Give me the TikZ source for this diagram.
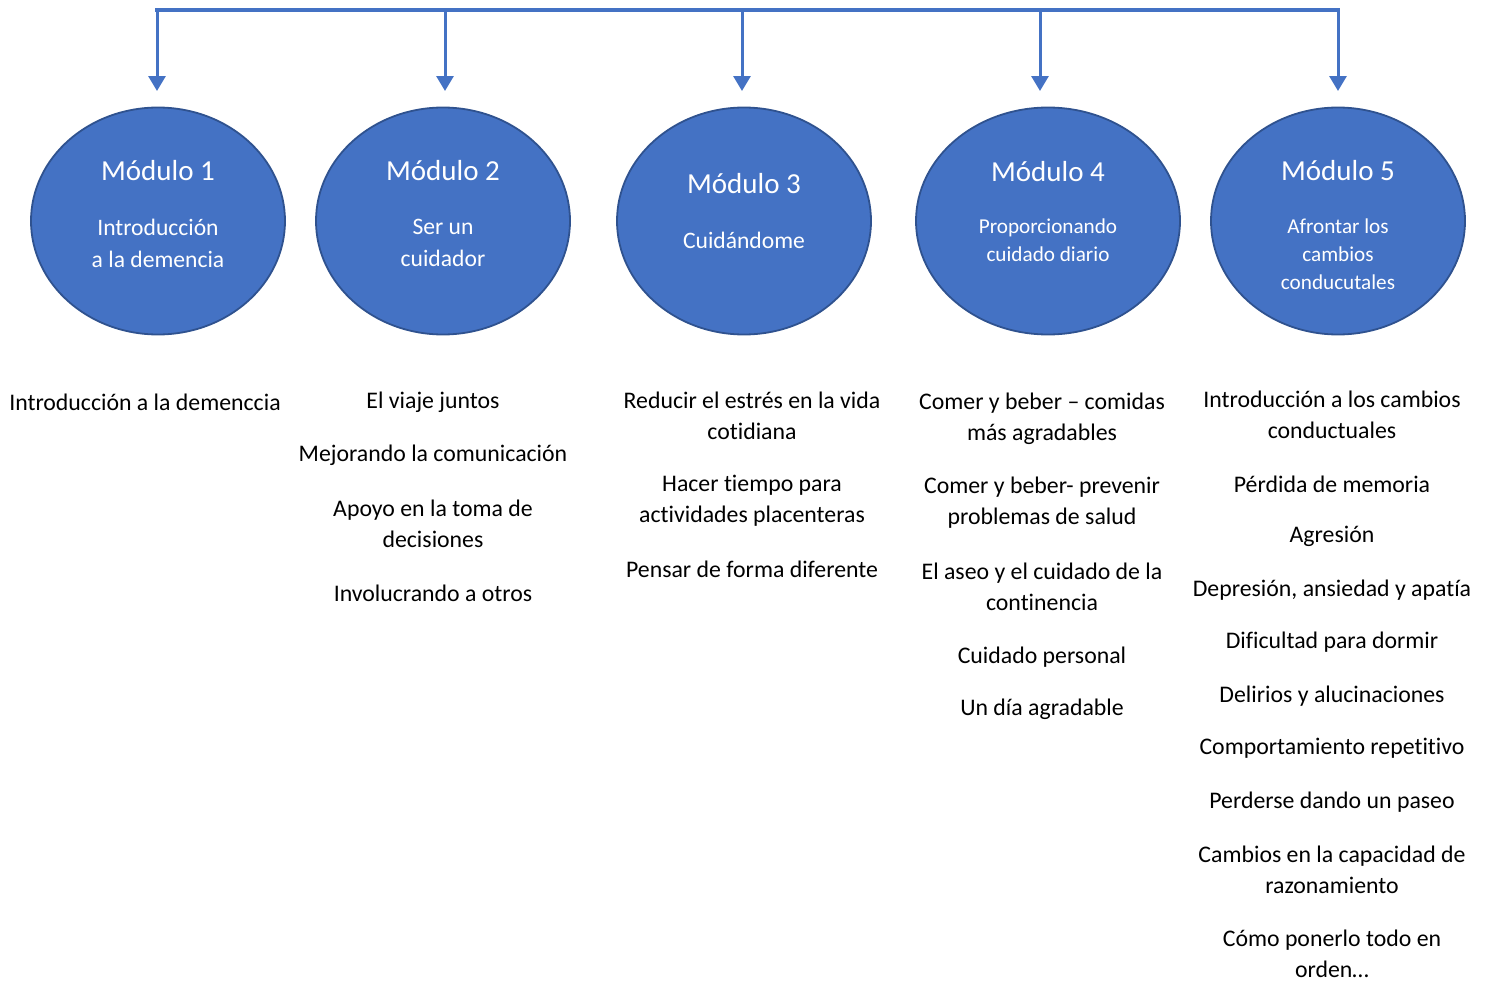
\documentclass[tikz,border=0pt]{standalone}
\usepackage{fontspec}
\setmainfont{Carlito}[Ligatures=NoCommon]
\usetikzlibrary{arrows.meta,shapes.geometric}
\definecolor{modblue}{HTML}{4472C4}
\definecolor{modedge}{HTML}{2F528F}
\tikzset{
  modell/.style={ellipse, fill=modblue, draw=modedge, line width=1.8pt, minimum width=#1, minimum height=227pt, inner sep=0pt},
  modell/.default=254pt,
  modtitle/.style={text=white, font=\fontsize{29}{32}\selectfont, inner sep=0pt},
  modsub/.style={text=white, font=\fontsize{23.6}{32}\selectfont, align=center, inner sep=0pt},
  modsubs/.style={text=white, font=\fontsize{21.2}{28}\selectfont, align=center, inner sep=0pt},
  item/.style={text=black, font=\fontsize{23.8}{31}\selectfont, align=center, inner sep=0pt},
  conn/.style={draw=modblue, line width=3pt},
  arr/.style={draw=modblue, line width=3pt, -{Triangle[width=17pt,length=15pt]}},
}
\begin{document}
\begin{tikzpicture}[x=1pt,y=-1pt]
\useasboundingbox (0,0) rectangle (1489,985);
% ellipses
\node[modell] (m1) at (158,221) {};
\node[modell] (m2) at (443,221) {};
\node[modell] (m3) at (744,221) {};
\node[modell=264pt] (m4) at (1048,221) {};
\node[modell] (m5) at (1338,221) {};
% top bus
\coordinate (t1) at (157,10);
\coordinate (t2) at (445,10);
\coordinate (t3) at (742,10);
\coordinate (t4) at (1040,10);
\coordinate (t5) at (1338,10);
\draw[conn, line width=4pt, line cap=rect] (t1) -- (t5);
\draw[arr] (t1) -- (t1 |- 0,91);
\draw[arr] (t2) -- (t2 |- 0,91);
\draw[arr] (t3) -- (t3 |- 0,91);
\draw[arr] (t4) -- (t4 |- 0,91);
\draw[arr] (t5) -- (t5 |- 0,91);
% ellipse texts
\node[modtitle] (h1) at (158,171) {Módulo 1};
\node[modsub] (s1) at (158,243) {Introducción\\a la demencia};
\node[modtitle] (h2) at (443,171) {Módulo 2};
\node[modsub] (s2) at (443,243) {Ser un\\cuidador};
\node[modtitle] (h3) at (744,184) {Módulo 3};
\node[modsub] (s3) at (744,240) {Cuidándome};
\node[modtitle] (h4) at (1048,172) {Módulo 4};
\node[modsubs] (s4) at (1048,240) {Proporcionando\\cuidado diario};
\node[modtitle] (h5) at (1338,171) {Módulo 5};
\node[modsubs] (s5) at (1338,254) {Afrontar los\\cambios\\conducutales};
% column 1
\node[item] (c1a) at (145,402) {Introducción a la demenccia};
% column 2
\node[item] (c2a) at (433,402) {El viaje juntos};
\node[item] (c2b) at (433,455) {Mejorando la comunicación};
\node[item] (c2c) at (433,524) {Apoyo en la toma de\\decisiones};
\node[item] (c2d) at (433,593) {Involucrando a otros};
% column 3
\node[item] (c3a) at (752,416) {Reducir el estrés en la vida\\cotidiana};
\node[item] (c3b) at (752,501) {Hacer tiempo para\\actividades placenteras};
\node[item] (c3c) at (752,569) {Pensar de forma diferente};
% column 4
\node[item] (c4a) at (1042,419) {Comer y beber – comidas\\más agradables};
\node[item] (c4b) at (1042,503) {Comer y beber- prevenir\\problemas de salud};
\node[item] (c4c) at (1042,587) {El aseo y el cuidado de la\\continencia};
\node[item] (c4d) at (1042,657) {Cuidado personal};
\node[item] (c4e) at (1042,709) {Un día agradable};
% column 5
\node[item] (c5a) at (1332,415) {Introducción a los cambios\\conductuales};
\node[item] (c5b) at (1332,484) {Pérdida de memoria};
\node[item] (c5c) at (1332,536) {Agresión};
\node[item] (c5d) at (1332,590) {Depresión, ansiedad y apatía};
\node[item] (c5e) at (1332,642) {Dificultad para dormir};
\node[item] (c5f) at (1332,696) {Delirios y alucinaciones};
\node[item] (c5g) at (1332,748) {Comportamiento repetitivo};
\node[item] (c5h) at (1332,802) {Perderse dando un paseo};
\node[item] (c5i) at (1332,870) {Cambios en la capacidad de\\razonamiento};
\node[item] (c5j) at (1332,954) {Cómo ponerlo todo en\\orden…};
\end{tikzpicture}
\end{document}
